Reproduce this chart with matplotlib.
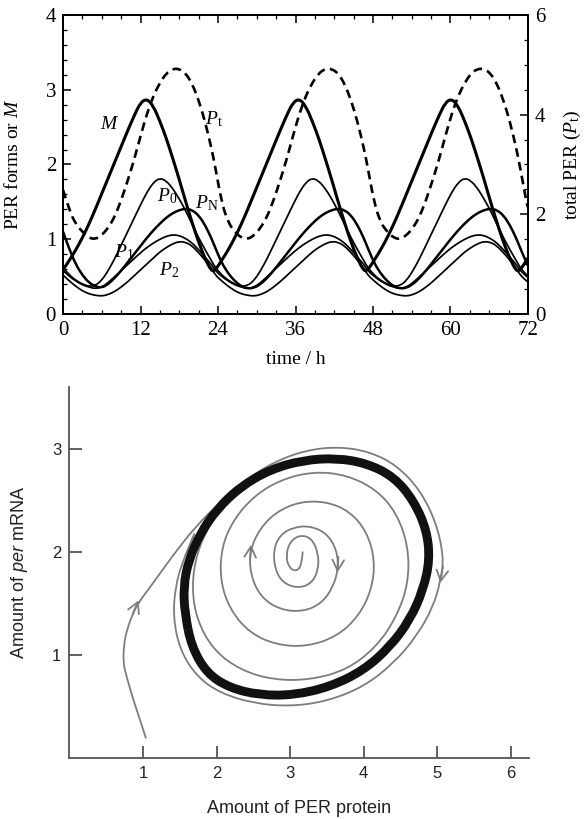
import matplotlib
matplotlib.use("Agg")
import matplotlib.pyplot as plt
from matplotlib.ticker import MultipleLocator
from matplotlib.path import Path
from matplotlib.patches import PathPatch

plt.rcParams['mathtext.fontset'] = 'custom'
plt.rcParams['mathtext.rm'] = 'Liberation Serif'
plt.rcParams['mathtext.it'] = 'Liberation Serif:italic'
plt.rcParams['mathtext.sf'] = 'Liberation Sans:italic'

# ---------------- top panel data ----------------
time_h = [0, 1, 2, 3, 4, 5, 6, 7, 8, 9, 10, 11, 12, 13, 14, 15, 16, 17, 18, 19, 20, 21, 22, 23,
          23.6, 24.6, 25.6, 26.6, 27.6, 28.6, 29.6, 30.6, 31.6, 32.6, 33.6, 34.6, 35.6, 36.6,
          37.6, 38.6, 39.6, 40.6, 41.6, 42.6, 43.6, 44.6, 45.6, 46.6,
          47.2, 48.2, 49.2, 50.2, 51.2, 52.2, 53.2, 54.2, 55.2, 56.2, 57.2, 58.2, 59.2, 60.2,
          61.2, 62.2, 63.2, 64.2, 65.2, 66.2, 67.2, 68.2, 69.2, 70.2,
          70.8, 71.8, 72.0]

M_vals = [0.59, 0.72, 0.86, 1.02, 1.20, 1.40, 1.61, 1.82, 2.03, 2.24, 2.45, 2.65, 2.83, 2.88, 2.78, 2.58, 2.35, 2.08, 1.80, 1.50, 1.22, 0.96, 0.74, 0.57,
          0.59, 0.72, 0.86, 1.02, 1.20, 1.40, 1.61, 1.82, 2.03, 2.24, 2.45, 2.65, 2.83, 2.88, 2.78, 2.58, 2.35, 2.08, 1.80, 1.50, 1.22, 0.96, 0.74, 0.57,
          0.59, 0.72, 0.86, 1.02, 1.20, 1.40, 1.61, 1.82, 2.03, 2.24, 2.45, 2.65, 2.83, 2.88, 2.78, 2.58, 2.35, 2.08, 1.80, 1.50, 1.22, 0.96, 0.74, 0.57,
          0.59, 0.72, 0.75]

P0_vals = [0.62, 0.52, 0.45, 0.40, 0.37, 0.38, 0.45, 0.58, 0.74, 0.92, 1.10, 1.28, 1.46, 1.63, 1.76, 1.82, 1.78, 1.68, 1.54, 1.38, 1.20, 1.02, 0.86, 0.71,
           0.62, 0.52, 0.45, 0.40, 0.37, 0.38, 0.45, 0.58, 0.74, 0.92, 1.10, 1.28, 1.46, 1.63, 1.76, 1.82, 1.78, 1.68, 1.54, 1.38, 1.20, 1.02, 0.86, 0.71,
           0.62, 0.52, 0.45, 0.40, 0.37, 0.38, 0.45, 0.58, 0.74, 0.92, 1.10, 1.28, 1.46, 1.63, 1.76, 1.82, 1.78, 1.68, 1.54, 1.38, 1.20, 1.02, 0.86, 0.71,
           0.62, 0.52, 0.51]

PN_vals = [1.10, 0.86, 0.66, 0.52, 0.42, 0.37, 0.35, 0.40, 0.48, 0.58, 0.69, 0.80, 0.91, 1.02, 1.12, 1.21, 1.29, 1.35, 1.39, 1.41, 1.39, 1.32, 1.19, 1.01,
           0.88, 0.68, 0.54, 0.44, 0.37, 0.34, 0.35, 0.40, 0.48, 0.58, 0.69, 0.80, 0.91, 1.02, 1.12, 1.21, 1.29, 1.35, 1.39, 1.41, 1.39, 1.32, 1.19, 1.01,
           0.88, 0.68, 0.54, 0.44, 0.37, 0.34, 0.35, 0.40, 0.48, 0.58, 0.69, 0.80, 0.91, 1.02, 1.12, 1.21, 1.29, 1.35, 1.39, 1.41, 1.39, 1.32, 1.19, 1.01,
           0.88, 0.68, 0.65]

P1_vals = [0.58, 0.50, 0.44, 0.39, 0.36, 0.34, 0.36, 0.42, 0.50, 0.58, 0.66, 0.74, 0.82, 0.89, 0.95, 1.00, 1.04, 1.06, 1.05, 1.01, 0.95, 0.86, 0.76, 0.66,
           0.58, 0.50, 0.44, 0.39, 0.36, 0.34, 0.36, 0.42, 0.50, 0.58, 0.66, 0.74, 0.82, 0.89, 0.95, 1.00, 1.04, 1.06, 1.05, 1.01, 0.95, 0.86, 0.76, 0.66,
           0.58, 0.50, 0.44, 0.39, 0.36, 0.34, 0.36, 0.42, 0.50, 0.58, 0.66, 0.74, 0.82, 0.89, 0.95, 1.00, 1.04, 1.06, 1.05, 1.01, 0.95, 0.86, 0.76, 0.66,
           0.58, 0.50, 0.49]

P2_vals = [0.52, 0.44, 0.37, 0.31, 0.27, 0.25, 0.24, 0.26, 0.30, 0.36, 0.43, 0.51, 0.59, 0.67, 0.75, 0.83, 0.89, 0.94, 0.97, 0.96, 0.91, 0.82, 0.72, 0.61,
           0.52, 0.44, 0.37, 0.31, 0.27, 0.25, 0.24, 0.26, 0.30, 0.36, 0.43, 0.51, 0.59, 0.67, 0.75, 0.83, 0.89, 0.94, 0.97, 0.96, 0.91, 0.82, 0.72, 0.61,
           0.52, 0.44, 0.37, 0.31, 0.27, 0.25, 0.24, 0.26, 0.30, 0.36, 0.43, 0.51, 0.59, 0.67, 0.75, 0.83, 0.89, 0.94, 0.97, 0.96, 0.91, 0.82, 0.72, 0.61,
           0.52, 0.44, 0.43]

# total PER on the right-hand axis
Pt_vals = [2.49, 2.07, 1.80, 1.65, 1.53, 1.50, 1.58, 1.73, 1.95, 2.28, 2.67, 3.09, 3.57, 4.02, 4.38, 4.64, 4.83, 4.92, 4.92, 4.83, 4.62, 4.29, 3.86, 3.32,
           2.93, 2.22, 1.83, 1.65, 1.53, 1.50, 1.58, 1.73, 1.95, 2.28, 2.67, 3.09, 3.57, 4.02, 4.38, 4.64, 4.83, 4.92, 4.92, 4.83, 4.62, 4.29, 3.86, 3.32,
           2.93, 2.22, 1.83, 1.65, 1.53, 1.50, 1.58, 1.73, 1.95, 2.28, 2.67, 3.09, 3.57, 4.02, 4.38, 4.64, 4.83, 4.92, 4.92, 4.83, 4.62, 4.29, 3.86, 3.32,
           2.93, 2.22, 2.14]

curve_labels = [r"$M$", r"$P_{\mathrm{t}}$", r"$P_0$", r"$P_{\mathrm{N}}$", r"$P_1$", r"$P_2$"]
label_t = [7.3, 23.4, 16.1, 22.3, 9.5, 16.4]
label_v = [2.55, 2.60, 1.57, 1.48, 0.83, 0.59]

time_ticks = [0, 12, 24, 36, 48, 60, 72]

# ---------------- bottom panel data ----------------
cycle_x = [1.57, 1.55, 1.62, 1.78, 2.00, 2.32, 2.73, 3.18, 3.63, 4.04, 4.41, 4.68, 4.86,
           4.90, 4.81, 4.63, 4.36, 4.00, 3.54, 3.05, 2.59, 2.18, 1.87, 1.66, 1.57]
cycle_y = [1.40, 1.66, 1.92, 2.18, 2.41, 2.63, 2.80, 2.89, 2.91, 2.86, 2.73, 2.50, 2.21,
           1.92, 1.63, 1.34, 1.08, 0.85, 0.69, 0.61, 0.61, 0.68, 0.82, 1.08, 1.40]

outer_x = [1.04, 0.96, 0.87, 0.78, 0.73, 0.74, 0.78, 0.86, 0.95, 1.10, 1.40, 1.72, 2.02, 2.36,
           2.77, 3.23, 3.68, 4.09, 4.45, 4.77, 4.99, 5.09, 5.05, 4.95, 4.72, 4.41, 4.00, 3.50,
           3.00, 2.50, 2.05, 1.73, 1.50, 1.41, 1.44, 1.53, 1.70]
outer_y = [0.19, 0.37, 0.56, 0.78, 0.92, 1.10, 1.24, 1.40, 1.52, 1.66, 1.96, 2.25, 2.46, 2.68,
           2.87, 2.99, 3.02, 2.97, 2.84, 2.60, 2.28, 1.95, 1.73, 1.47, 1.18, 0.92, 0.69, 0.55,
           0.50, 0.53, 0.63, 0.79, 1.05, 1.37, 1.66, 1.89, 2.18]

inner_x = [3.172, 3.158, 3.068, 2.977, 2.945, 2.999, 3.136, 3.295, 3.385, 3.385, 3.295, 3.113,
           2.909, 2.796, 2.773, 2.864, 3.045, 3.272, 3.499, 3.635, 3.657, 3.589, 3.431, 3.181,
           2.864, 2.592, 2.456, 2.456, 2.592, 2.818, 3.136, 3.499, 3.816, 4.043, 4.156, 4.111,
           3.929, 3.635, 3.227, 2.818, 2.456, 2.183, 2.047, 2.070, 2.229, 2.501, 2.864, 3.317,
           3.771, 4.179, 4.451, 4.610, 4.610, 4.451, 4.179, 3.771, 3.272, 2.773, 2.320, 1.957,
           1.730, 1.662, 1.730, 1.911, 2.183, 2.546]
inner_y = [2.003, 1.857, 1.809, 1.857, 1.970, 2.100, 2.165, 2.132, 1.987, 1.825, 1.695, 1.647,
           1.695, 1.825, 2.019, 2.165, 2.239, 2.252, 2.181, 2.019, 1.841, 1.663, 1.501, 1.420,
           1.437, 1.566, 1.793, 2.019, 2.229, 2.391, 2.488, 2.488, 2.391, 2.197, 1.922, 1.631,
           1.372, 1.178, 1.080, 1.097, 1.210, 1.437, 1.728, 2.051, 2.310, 2.537, 2.699, 2.780,
           2.747, 2.602, 2.375, 2.051, 1.695, 1.372, 1.080, 0.854, 0.757, 0.757, 0.854, 1.048,
           1.340, 1.663, 1.987, 2.278, 2.504, 2.699]

arrow_tail = [(2.455, 1.93), (3.658, 1.95), (0.86, 1.40), (5.08, 1.86)]
arrow_tip = [(2.47, 2.07), (3.645, 1.80), (0.94, 1.53), (5.045, 1.70)]

protein_ticks = [1, 2, 3, 4, 5, 6]
mrna_ticks = [1, 2, 3]


def smooth_curve(ax, xs, ys, closed=False, **kw):
    """Draw a polyline through the read points, rounding its corners with
    quadratic Bezier segments (rendering only, in data coordinates)."""
    pts = list(zip(xs, ys))
    if closed:
        pts = pts[:-1]
        n = len(pts)
        mids = [((pts[i][0] + pts[(i + 1) % n][0]) / 2, (pts[i][1] + pts[(i + 1) % n][1]) / 2)
                for i in range(n)]
        verts = [mids[-1]]
        codes = [Path.MOVETO]
        for i in range(n):
            verts += [pts[i], mids[i]]
            codes += [Path.CURVE3, Path.CURVE3]
    else:
        verts = [pts[0]]
        codes = [Path.MOVETO]
        for i in range(1, len(pts) - 1):
            mid = ((pts[i][0] + pts[i + 1][0]) / 2, (pts[i][1] + pts[i + 1][1]) / 2)
            verts += [pts[i], mid]
            codes += [Path.CURVE3, Path.CURVE3]
        verts.append(pts[-1])
        codes.append(Path.LINETO)
    patch = PathPatch(Path(verts, codes), fill=False, **kw)
    ax.add_patch(patch)
    return patch


# ---------------- figure ----------------
fig = plt.figure(figsize=(5.84, 8.19), dpi=100)
serif = 'Liberation Serif'
sans = 'Liberation Sans'

ax = fig.add_axes([0.1079, 0.6166, 0.7962, 0.3651])
ax2 = ax.twinx()

lw_thin = 1.25
smooth_curve(ax, time_h, P2_vals, edgecolor='black', lw=lw_thin, zorder=3)
smooth_curve(ax, time_h, P1_vals, edgecolor='black', lw=lw_thin, zorder=3)
smooth_curve(ax, time_h, P0_vals, edgecolor='black', lw=lw_thin, zorder=3)
smooth_curve(ax, time_h, PN_vals, edgecolor='black', lw=1.8, zorder=3)
smooth_curve(ax, time_h, M_vals, edgecolor='black', lw=2.2, zorder=4)
smooth_curve(ax2, time_h, Pt_vals, edgecolor='black', lw=1.9, linestyle=(0, (3.3, 2.0)))

ax.set_xlim(0, 72)
ax.set_ylim(0, 4)
ax2.set_ylim(0, 6)
ax.set_xticks(time_ticks)
ax.xaxis.set_minor_locator(MultipleLocator(3))
ax.yaxis.set_major_locator(MultipleLocator(1))
ax.yaxis.set_minor_locator(MultipleLocator(0.2))
ax2.yaxis.set_major_locator(MultipleLocator(2))
ax2.yaxis.set_minor_locator(MultipleLocator(0.5))

for a in (ax, ax2):
    for s in a.spines.values():
        s.set_linewidth(1.3)
ax.tick_params(axis='both', which='major', direction='in', length=6, width=1.1,
               top=True, right=False, labelsize=15, pad=5)
ax.tick_params(axis='both', which='minor', direction='in', length=3, width=0.9,
               top=True, right=False)
ax2.tick_params(axis='y', which='major', direction='in', length=6, width=1.1,
                labelsize=15, pad=5)
ax2.tick_params(axis='y', which='minor', direction='in', length=3, width=0.9)
for lab in ax.get_xticklabels() + ax.get_yticklabels() + ax2.get_yticklabels():
    lab.set_fontfamily(serif)

ax.set_xlabel("time / h", fontfamily=serif, fontsize=14)
ax.xaxis.set_label_coords(0.5, -0.125)
ax.set_ylabel(r"PER forms or $M$", fontfamily=serif, fontsize=14)
ax.yaxis.set_label_coords(-0.088, 0.5)
ax2.set_ylabel(r"total PER ($P_{\mathrm{t}}$)", fontfamily=serif, fontsize=14)
ax2.yaxis.set_label_coords(1.072, 0.5)

for txt, tx, vy in zip(curve_labels, label_t, label_v):
    ax.text(tx, vy, txt, fontsize=14, ha='center', va='center', zorder=6)

# ---------------- bottom panel ----------------
bx = fig.add_axes([0.119, 0.0745, 0.7868, 0.4530])
gray = '#7d7d7d'
smooth_curve(bx, outer_x, outer_y, edgecolor=gray, lw=1.3, zorder=2)
smooth_curve(bx, inner_x, inner_y, edgecolor=gray, lw=1.3, zorder=2)
smooth_curve(bx, cycle_x, cycle_y, closed=True, edgecolor='#111111', lw=6.4, zorder=3)
for tail, tip in zip(arrow_tail, arrow_tip):
    bx.annotate("", xy=tip, xytext=tail,
                arrowprops=dict(arrowstyle='->,head_length=0.55,head_width=0.3',
                                color=gray, lw=1.3, mutation_scale=14,
                                shrinkA=0, shrinkB=0), zorder=4)

bx.set_xlim(0, 6.25)
bx.set_ylim(0, 3.6)
bx.set_xticks(protein_ticks)
bx.set_yticks(mrna_ticks)
for side in ('top', 'right'):
    bx.spines[side].set_visible(False)
for side in ('left', 'bottom'):
    bx.spines[side].set_color('#555555')
    bx.spines[side].set_linewidth(1.3)
bx.tick_params(direction='in', length=9, width=1.3, color='#555555',
               labelsize=12, pad=6, labelcolor='#222222')
for lab in bx.get_xticklabels() + bx.get_yticklabels():
    lab.set_fontfamily(sans)
bx.set_xlabel("Amount of PER protein", fontfamily=sans, fontsize=13, color='#222222')
bx.xaxis.set_label_coords(0.5, -0.112)
bx.set_ylabel(r"Amount of $\mathsf{per}$ mRNA", fontfamily=sans, fontsize=13, color='#222222')
bx.yaxis.set_label_coords(-0.086, 0.5)

fig.savefig("out.png", dpi=100)
